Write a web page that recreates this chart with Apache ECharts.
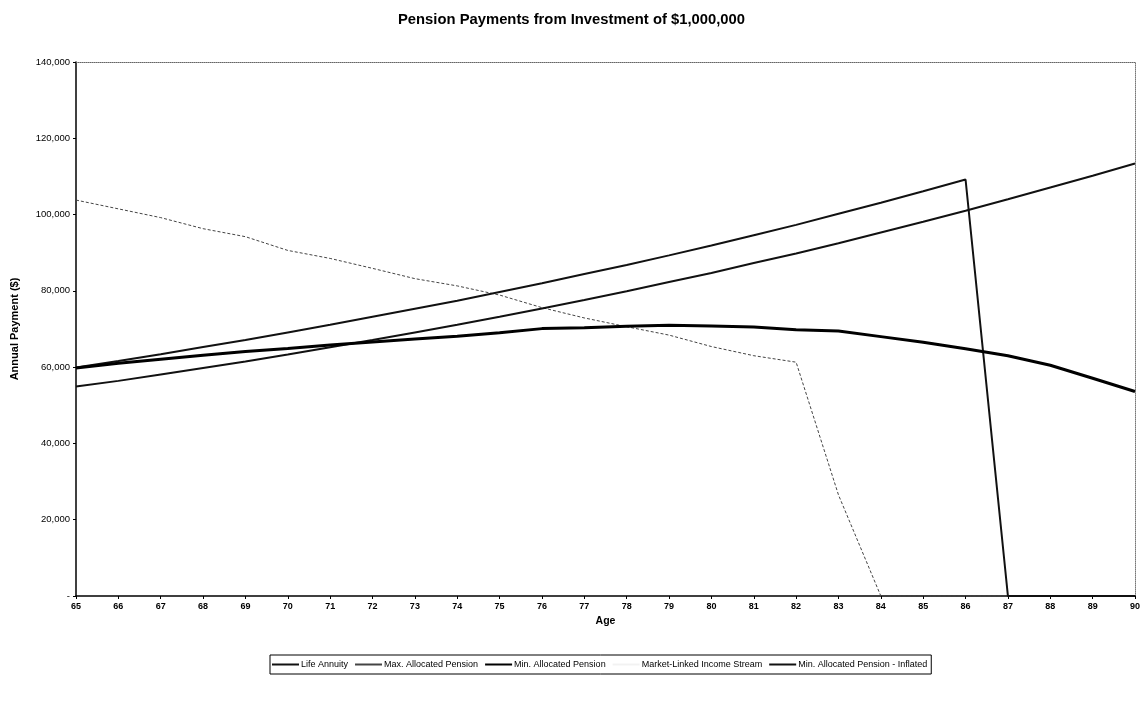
<!DOCTYPE html>
<html>
<head>
<meta charset="utf-8">
<script src="https://cdn.jsdelivr.net/npm/echarts@6/dist/echarts.min.js"></script>
<style>
html,body{margin:0;padding:0;background:#fff;}
#chart{width:1143px;height:701px;}
</style>
</head>
<body>
<div id="chart"></div>
<script>
var ages = ['65','66','67','68','69','70','71','72','73','74','75','76','77','78','79','80','81','82','83','84','85','86','87','88','89','90'];
var yTicks = [0, 20000, 40000, 60000, 80000, 100000, 120000, 140000];

var lifeAnnuity = [54900,56400,58100,59800,61500,63300,65200,67100,69100,71100,73200,75400,77600,79900,82300,84700,87300,89800,92500,95300,98100,101000,104000,107100,110200,113400];
var maxAllocated = [103800,101500,99200,96300,94200,90600,88500,85900,83200,81300,78900,75600,72900,70600,68400,65400,63000,61300,26500,0,0,0,0,0,0,0];
var minAllocated = [59800,61000,62100,63100,64100,64900,65800,66600,67400,68100,69000,70100,70300,70700,71000,70800,70500,69800,69500,68000,66500,64800,63000,60500,57100,53600];
var marketLinked = [];
var minAllocatedInflated = [59900,61600,63400,65300,67100,69100,71100,73200,75300,77400,79700,82000,84400,86800,89300,91900,94600,97300,100200,103100,106100,109200,0,0,0,0];

var seriesNames = ['Life Annuity','Max. Allocated Pension','Min. Allocated Pension','Market-Linked Income Stream','Min. Allocated Pension - Inflated'];

var chart = echarts.init(document.getElementById('chart'), null, {renderer:'canvas'});
var font = 'Liberation Sans, Arial, sans-serif';
chart.setOption({
  animation:false,
  backgroundColor:'#fff',
  title:{
    text:'Pension Payments from Investment of $1,000,000',
    left:'center', top:7,
    textStyle:{fontFamily:font,fontSize:14.8,fontWeight:'bold',color:'#000'}
  },
  legend:{
    data:seriesNames,
    left:270, top:655,
    orient:'horizontal',
    borderColor:'#000', borderWidth:1, borderRadius:0,
    padding:[5,4,5,2],
    itemGap:7, itemWidth:27, itemHeight:6,
    icon:'path://M0,2 L27,2 L27,4 L0,4 Z',
    textStyle:{fontFamily:font,fontSize:9,color:'#000',padding:[0,0,0,-3]}
  },
  grid:{left:76, right:5, top:62, bottom:105, containLabel:false},
  xAxis:[{
    type:'category', data:ages, boundaryGap:false,
    name:'Age', nameLocation:'middle', nameGap:19,
    nameTextStyle:{fontFamily:font,fontSize:10.5,fontWeight:'bold',color:'#000'},
    axisLine:{lineStyle:{color:'#000',width:1.5}},
    axisTick:{show:true,length:3,lineStyle:{color:'#000'}},
    axisLabel:{fontFamily:font,fontSize:9,color:'#000',fontWeight:'bold',margin:6},
    splitLine:{show:false}
  },{
    type:'category', data:ages, boundaryGap:false, position:'top',
    axisLine:{show:true,onZero:false,lineStyle:{color:'#666',width:1,type:'dotted'}},
    axisTick:{show:false}, axisLabel:{show:false}, splitLine:{show:false}
  }],
  yAxis:[{
    type:'value', min:yTicks[0], max:yTicks[yTicks.length-1], interval:20000,
    name:'Annual Payment ($)', nameLocation:'middle', nameGap:56, nameRotate:90,
    nameTextStyle:{fontFamily:font,fontSize:11,fontWeight:'bold',color:'#000'},
    axisLine:{show:true,lineStyle:{color:'#000',width:1.5}},
    axisTick:{show:true,length:3,lineStyle:{color:'#000'}},
    axisLabel:{fontFamily:font,fontSize:9.5,color:'#000',margin:6,
      formatter:function(v){return v===0?'-':v.toLocaleString('en-US');}},
    splitLine:{show:false}
  },{
    type:'value', min:yTicks[0], max:yTicks[yTicks.length-1], interval:20000, position:'right',
    axisLine:{show:true,onZero:false,lineStyle:{color:'#777',width:1,type:'dotted'}},
    axisTick:{show:false}, axisLabel:{show:false}, splitLine:{show:false}
  }],
  series:[
    {name:seriesNames[0],type:'line',data:lifeAnnuity,showSymbol:false,symbol:'none',
      lineStyle:{color:'#111',width:2},itemStyle:{color:'#111'},z:3},
    {name:seriesNames[1],type:'line',data:maxAllocated,showSymbol:false,symbol:'none',
      lineStyle:{color:'#444',width:1,type:[3,2]},itemStyle:{color:'#444'},z:2},
    {name:seriesNames[2],type:'line',data:minAllocated,showSymbol:false,symbol:'none',
      lineStyle:{color:'#000',width:3},itemStyle:{color:'#000'},z:4},
    {name:seriesNames[3],type:'line',data:marketLinked,showSymbol:false,symbol:'none',
      lineStyle:{color:'#f2f2f2',width:2},itemStyle:{color:'#f2f2f2'},z:1},
    {name:seriesNames[4],type:'line',data:minAllocatedInflated,showSymbol:false,symbol:'none',
      lineStyle:{color:'#111',width:2},itemStyle:{color:'#111'},z:3}
  ]
});
</script>
</body>
</html>
